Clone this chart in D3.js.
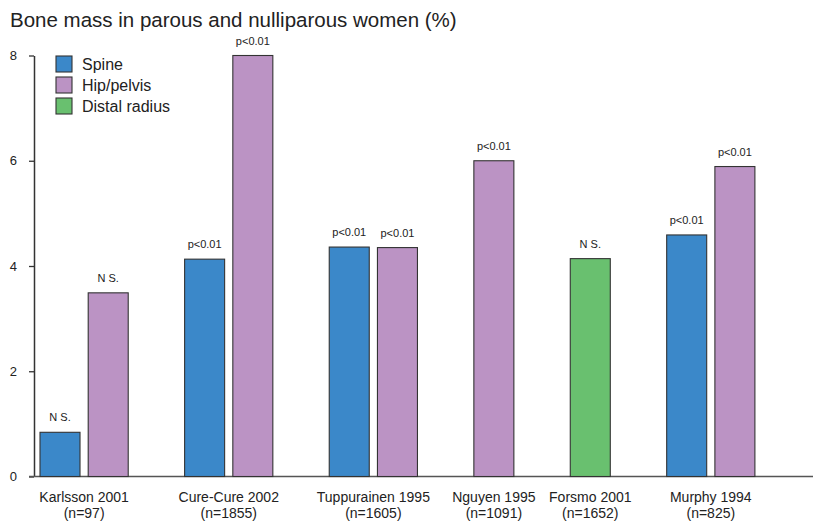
<!DOCTYPE html>
<html>
<head>
<meta charset="utf-8">
<script src="https://cdn.jsdelivr.net/npm/d3@7"></script>
<style>
  html, body { margin: 0; padding: 0; background: #fff; }
  svg { display: block; font-family: "Liberation Sans", Arial, Helvetica, sans-serif; }
</style>
</head>
<body>
<svg id="chart" width="813" height="521"></svg>
<script>
// ---- data ----
const studies = ["Karlsson 2001", "Cure-Cure 2002", "Tuppurainen 1995", "Nguyen 1995", "Forsmo 2001", "Murphy 1994"];
const sampleSizes = ["(n=97)", "(n=1855)", "(n=1605)", "(n=1091)", "(n=1652)", "(n=825)"];
const seriesNames = ["Spine", "Hip/pelvis", "Distal radius"];
const spineValues  = [0.84, 4.13, 4.36, null, null, 4.59];
const hipValues    = [3.49, 8.00, 4.35, 6.00, null, 5.89];
const radiusValues = [null, null, null, null, 4.14, null];
const spineSig  = ["N S.", "p<0.01", "p<0.01", null, null, "p<0.01"];
const hipSig    = ["N S.", "p<0.01", "p<0.01", "p<0.01", null, "p<0.01"];
const radiusSig = [null, null, null, null, "N S.", null];
const yTicks = [0, 2, 4, 6, 8];
const title = "Bone mass in parous and nulliparous women (%)";

const seriesValues = [spineValues, hipValues, radiusValues];
const seriesSig = [spineSig, hipSig, radiusSig];
const colors = ["#3b88c9", "#bb93c4", "#69c06f"];

// ---- build slot table: present bars of each study, then one gap slot ----
const bars = [];
const groups = [];
let slot = 0;
studies.forEach((s, i) => {
  const slots = [];
  seriesValues.forEach((vals, k) => {
    if (vals[i] != null) {
      bars.push({ study: s, series: k, value: vals[i], sig: seriesSig[k][i], slot });
      slots.push(slot);
      slot++;
    }
  });
  groups.push({ study: s, n: sampleSizes[i], slots });
  if (i < studies.length - 1) slot++;
});

const svg = d3.select("#chart");

const x = d3.scaleBand()
  .domain(d3.range(slot))
  .range([35.9, 759])
  .paddingInner(0.17)
  .paddingOuter(0.085);

const y = d3.scaleLinear().domain([0, 8]).range([476.5, 55.5]);

// title
svg.append("text")
  .attr("x", 10).attr("y", 27)
  .attr("font-size", 20.5)
  .attr("fill", "#222")
  .text(title);

// y axis
const yAxis = svg.append("g")
  .attr("transform", "translate(34,0)")
  .call(d3.axisLeft(y).tickValues(yTicks).tickFormat(d3.format("d")).tickSize(5).tickSizeOuter(0).tickPadding(12));
yAxis.select(".domain").attr("stroke", "#333").attr("stroke-width", 1.5);
yAxis.selectAll(".tick line").attr("stroke", "#333").attr("stroke-width", 1.3);
yAxis.selectAll(".tick text").attr("font-size", 13).attr("fill", "#222")
  .attr("font-family", "'Liberation Sans', Arial, sans-serif");

// x baseline
svg.append("line")
  .attr("x1", 29).attr("x2", 813)
  .attr("y1", y(0)).attr("y2", y(0))
  .attr("stroke", "#555").attr("stroke-width", 1.5);

// bars
svg.append("g").selectAll("rect")
  .data(bars).join("rect")
  .attr("x", d => x(d.slot))
  .attr("y", d => y(d.value))
  .attr("width", x.bandwidth())
  .attr("height", d => y(0) - y(d.value))
  .attr("fill", d => colors[d.series])
  .attr("stroke", "#333")
  .attr("stroke-width", 1.1);

// significance labels
svg.append("g").selectAll("text")
  .data(bars.filter(d => d.sig)).join("text")
  .attr("x", d => x(d.slot) + x.bandwidth() / 2)
  .attr("y", d => y(d.value) - 11)
  .attr("text-anchor", "middle")
  .attr("font-size", 11)
  .attr("fill", "#222")
  .text(d => d.sig);

// category labels
const cat = svg.append("g").selectAll("text")
  .data(groups).join("text")
  .attr("text-anchor", "middle")
  .attr("font-size", 14)
  .attr("fill", "#222")
  .attr("transform", g => {
    const cx = (x(d3.min(g.slots)) + x(d3.max(g.slots)) + x.bandwidth()) / 2;
    return `translate(${cx},0)`;
  });
cat.append("tspan").attr("x", 0).attr("y", 501.5).text(g => g.study);
cat.append("tspan").attr("x", 0).attr("y", 517.5).text(g => g.n);

// legend
const leg = svg.append("g").selectAll("g")
  .data(seriesNames).join("g")
  .attr("transform", (d, i) => `translate(56,${56 + i * 21})`);
leg.append("rect")
  .attr("width", 16).attr("height", 16)
  .attr("fill", (d, i) => colors[i])
  .attr("stroke", "#333").attr("stroke-width", 1.1);
leg.append("text")
  .attr("x", 26).attr("y", 14)
  .attr("font-size", 16)
  .attr("fill", "#222")
  .text(d => d);
</script>
</body>
</html>
